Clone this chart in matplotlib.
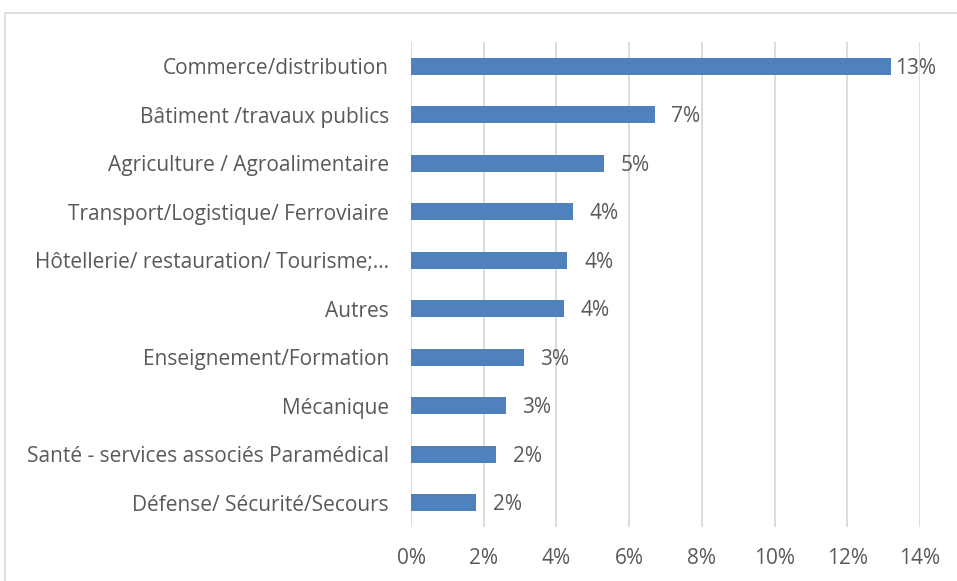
import matplotlib.pyplot as plt
from matplotlib.patches import Rectangle
from matplotlib.ticker import FuncFormatter

# ==============================
# DATA
# ==============================

categories = [
    "Commerce/distribution",
    "Bâtiment /travaux publics",
    "Agriculture / Agroalimentaire",
    "Transport/Logistique/ Ferroviaire",
    "Hôtellerie/ restauration/ Tourisme;…",
    "Autres",
    "Enseignement/Formation",
    "Mécanique",
    "Santé - services associés Paramédical",
    "Défense/ Sécurité/Secours",
]
values = [0.132, 0.067, 0.053, 0.0445, 0.043, 0.042, 0.031, 0.026, 0.0235, 0.018]
value_labels = ["13%", "7%", "5%", "4%", "4%", "4%", "3%", "3%", "2%", "2%"]
xticks = [0, 0.02, 0.04, 0.06, 0.08, 0.10, 0.12, 0.14]

# ==============================
# STYLE
# ==============================

BAR_COLOR = "#4F81BD"
TEXT_COLOR = "#595959"
GRID_COLOR = "#D9D9D9"
FS = 15
plt.rcParams["font.family"] = ["Open Sans", "DejaVu Sans"]

fig = plt.figure(figsize=(9.57, 5.81), dpi=100)
ax = fig.add_axes([411 / 957, 1 - 527 / 581, (920 - 411) / 957, (527 - 42) / 581])

# outer chart frame
fig.patches.append(Rectangle((5 / 957, -0.1), 1.2, 1 - 13 / 581 + 0.1,
                             transform=fig.transFigure, fill=False,
                             edgecolor=GRID_COLOR, linewidth=1.2))

y = list(range(len(categories)))
ax.barh(y, values, height=0.36, color=BAR_COLOR, zorder=3)

for yi, v, lab in zip(y, values, value_labels):
    # Excel pulls the label in when it would run past the chart edge
    off = 3 if v > 0.125 else 12
    ax.annotate(lab, (v, yi), xytext=(off, -1.5), textcoords="offset points",
                va="center", ha="left", fontsize=FS, color=TEXT_COLOR)

ax.set_yticks(y)
ax.set_yticklabels(categories, fontsize=FS, color=TEXT_COLOR)
ax.set_ylim(len(categories) - 0.5, -0.5)
ax.set_xlim(0, 0.14)
ax.set_xticks(xticks)
ax.xaxis.set_major_formatter(FuncFormatter(lambda x, p: f"{round(x * 100)}%"))
ax.tick_params(axis="x", labelsize=FS, labelcolor=TEXT_COLOR, length=0, pad=15)
ax.tick_params(axis="y", length=0, pad=16)

ax.grid(axis="x", color=GRID_COLOR, linewidth=1.3, zorder=0)
for s in ax.spines.values():
    s.set_visible(False)

plt.savefig("out.png", dpi=100)
